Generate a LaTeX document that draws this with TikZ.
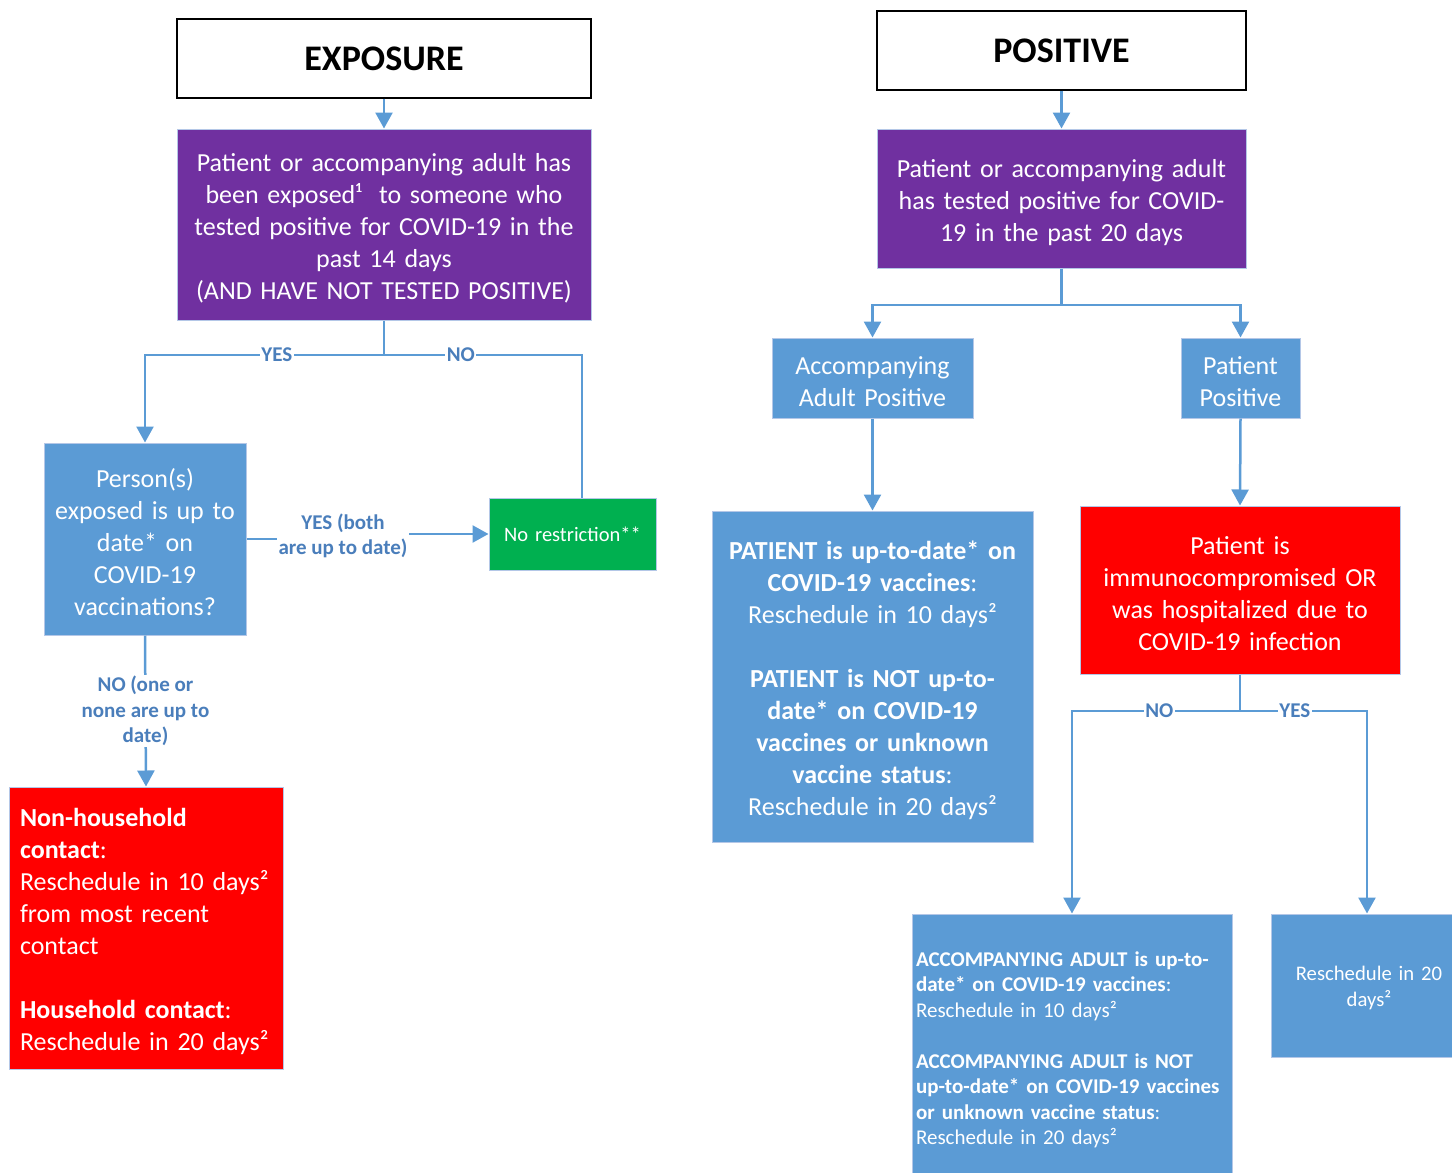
\documentclass[tikz,border=0pt]{standalone}
\usepackage{fontspec}
\setmainfont{Carlito}
\usetikzlibrary{arrows.meta}
\definecolor{purp}{HTML}{7030A0}
\definecolor{bluebox}{HTML}{5B9BD5}
\definecolor{redbox}{HTML}{FF0000}
\definecolor{greenbox}{HTML}{00B050}
\definecolor{conn}{HTML}{5B9BD5}
\definecolor{lblblue}{HTML}{4A7EBB}
\definecolor{boxedge}{HTML}{B4C7E7}
\begin{document}
\begin{tikzpicture}[x=1pt,y=-1pt,
  titlebox/.style={draw=black, line width=1.2pt, fill=white, inner sep=0pt, align=center,
     font=\fontsize{36}{40}\selectfont\bfseries},
  basebox/.style={draw=boxedge, line width=1pt, inner sep=0pt, text=white},
  cbox/.style={basebox, font=\fontsize{26}{32}\selectfont, execute at begin node={\rule{0pt}{26pt}}},
  sbox/.style={basebox, font=\fontsize{21}{25.5}\selectfont, execute at begin node={\rule{0pt}{20pt}}},
  ln/.style={draw=conn, line width=2.5pt},
  arr/.style={ln, -{Triangle[width=17pt,length=16pt]}},
  lbl/.style={fill=white, text=lblblue, inner sep=1.5pt, align=center,
     font=\fontsize{21}{25.5}\selectfont\bfseries}
]
\useasboundingbox (0,0) rectangle (1452,1173);
\clip (0,0) rectangle (1452,1173);

% ---------- EXPOSURE ----------
\node[titlebox, minimum width=414pt, minimum height=79pt] (expo) at (384,58.5) {EXPOSURE};
\node[cbox, fill=purp, align=center, minimum width=414pt, minimum height=191pt, text width=400pt]
  (expq) at (384,224.5)
  {Patient or accompanying adult has\\been exposed¹\ \ to someone who\\tested positive for COVID-19 in the\\past 14 days\\(AND HAVE NOT TESTED POSITIVE)};
\node[cbox, fill=bluebox, align=center, minimum width=202pt, minimum height=192pt, text width=190pt]
  (pers) at (145,539)
  {Person(s)\\exposed is up to\\date* on\\COVID-19\\vaccinations?};
\node[basebox, fill=greenbox, align=center, minimum width=167pt, minimum height=72pt, text width=160pt,
  font=\fontsize{20.5}{24}\selectfont]
  (norest) at (572.5,534) {No restriction**};
\node[cbox, fill=redbox, align=left, minimum width=274pt, minimum height=282pt, text width=252pt]
  (redL) at (146,928)
  {\textbf{Non-household}\\\textbf{contact}:\\Reschedule in 10 days²\\from most recent\\contact\\[32pt]\textbf{Household contact}:\\Reschedule in 20 days²};

\coordinate (j1) at (384,355);
\draw[arr] (expo.south) -- (expq.north);
\draw[ln] (expq.south) -- (j1);
\draw[arr] (j1) -| node[lbl, pos=0.224] {YES} (pers.north);
\draw[ln] (j1) -| node[lbl, pos=0.194] {NO} ([xshift=9.5pt]norest.north);
\draw[arr] (pers.east) -- ++(121,0) |- (norest.west);
\node[lbl] (lyb) at (343,536) {YES (both\\are up to date)};
\draw[arr] (pers.south) -- node[lbl] {NO (one or\\none are up to\\date)} (redL.north);

% ---------- POSITIVE ----------
\node[titlebox, minimum width=369pt, minimum height=79pt] (pos) at (1061.5,50.5) {POSITIVE};
\node[cbox, fill=purp, align=center, minimum width=369pt, minimum height=139pt, text width=355pt]
  (posq) at (1061.5,198.5)
  {Patient or accompanying adult\\has tested positive for COVID-\\19 in the past 20 days};
\node[cbox, fill=bluebox, align=center, minimum width=201pt, minimum height=80pt, text width=195pt]
  (aap) at (872.5,378) {Accompanying\\Adult Positive};
\node[cbox, fill=bluebox, align=center, minimum width=119pt, minimum height=80pt, text width=115pt]
  (pp) at (1240.5,378) {Patient\\Positive};
\node[cbox, fill=bluebox, align=center, minimum width=321pt, minimum height=331pt, text width=310pt]
  (pat) at (872.5,676.5)
  {\textbf{PATIENT is up-to-date* on}\\\textbf{COVID-19 vaccines}:\\Reschedule in 10 days²\\[32pt]\textbf{PATIENT is NOT up-to-}\\\textbf{date* on COVID-19}\\\textbf{vaccines or unknown}\\\textbf{vaccine status}:\\Reschedule in 20 days²};
\node[cbox, fill=redbox, align=center, minimum width=320pt, minimum height=168pt, text width=310pt]
  (immu) at (1240,590)
  {Patient is\\immunocompromised OR\\was hospitalized due to\\COVID-19 infection};
\node[sbox, fill=bluebox, align=left, minimum width=320pt, minimum height=266pt, text width=312pt]
  (acc) at (1072,1047)
  {\textbf{ACCOMPANYING ADULT is up-to-}\\\textbf{date* on COVID-19 vaccines}:\\Reschedule in 10 days²\\[25.5pt]\textbf{ACCOMPANYING ADULT is NOT}\\\textbf{up-to-date* on COVID-19 vaccines}\\\textbf{or unknown vaccine status}:\\Reschedule in 20 days²};
\node[sbox, fill=bluebox, align=center, minimum width=196pt, minimum height=143pt, text width=185pt,
  font=\fontsize{20.7}{26}\selectfont]
  (rs20) at (1369,985.5) {Reschedule in 20\\days²};

\coordinate (j2) at (1061.5,305);
\coordinate (j3) at (1240,711);
\draw[arr] (pos.south) -- (posq.north);
\draw[ln] (posq.south) -- (j2);
\draw[arr] (j2) -| (aap.north);
\draw[arr] (j2) -| (pp.north);
\draw[arr] (aap.south) -- (pat.north);
\draw[arr] (pp.south) -- (immu.north);
\draw[ln] (immu.south) -- (j3);
\draw[arr] (j3) -| node[lbl, pos=0.24] {NO} (acc.north);
\draw[arr] (j3) -| node[lbl, pos=0.216] {YES} ([xshift=-2pt]rs20.north);
\end{tikzpicture}
\end{document}
